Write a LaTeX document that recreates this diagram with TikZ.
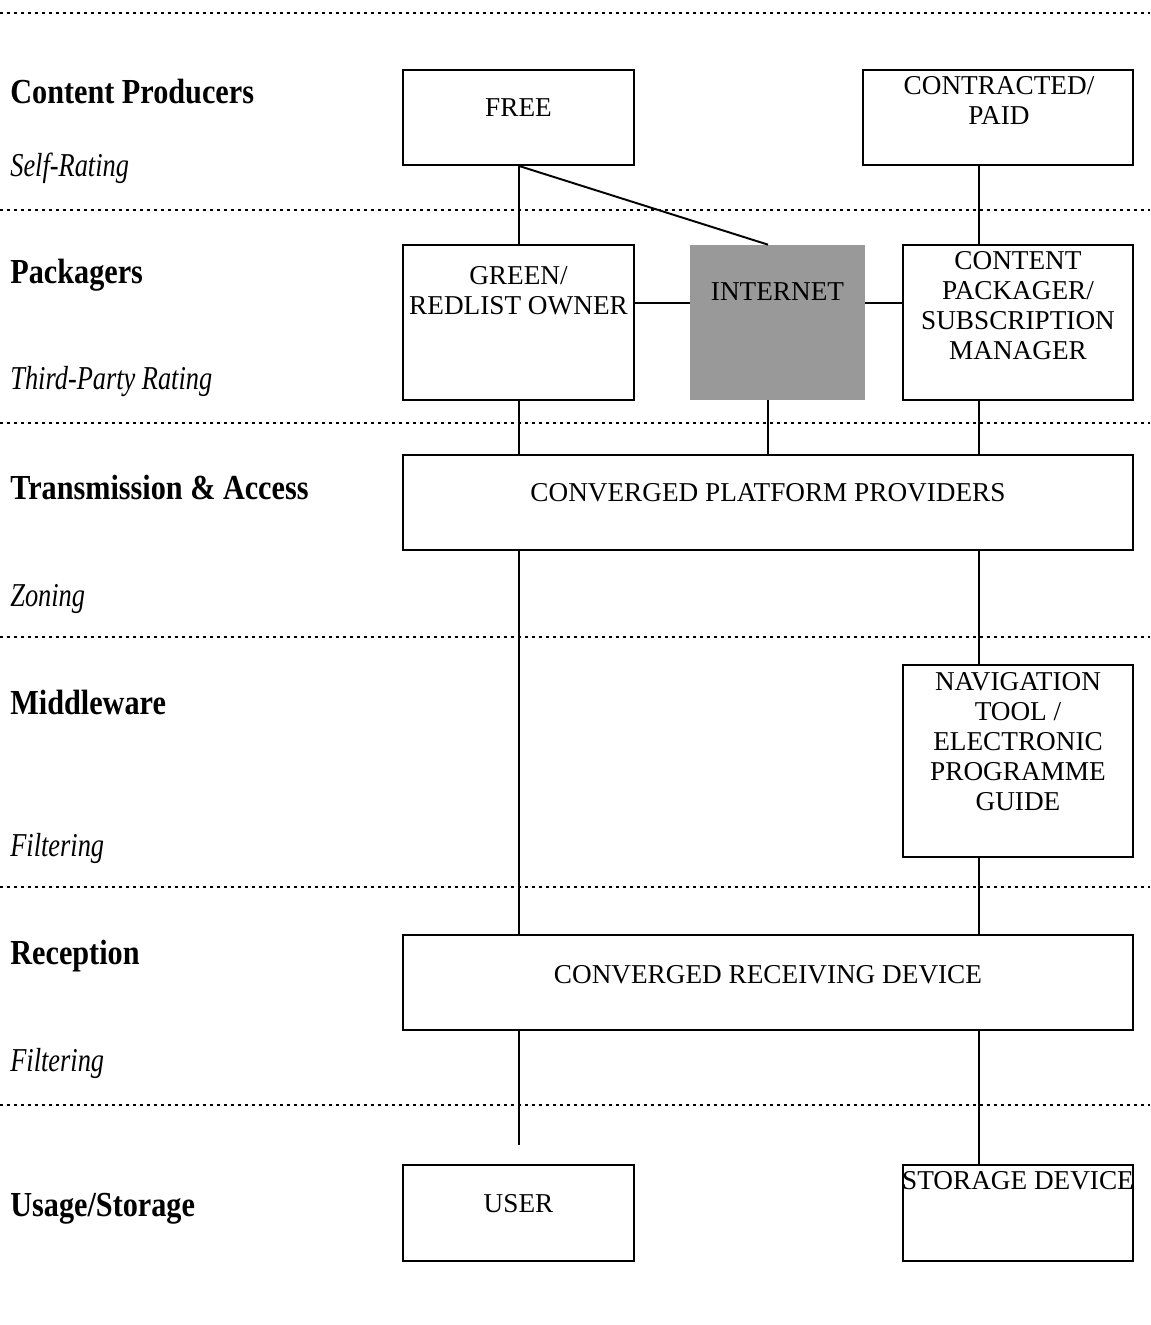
\documentclass[tikz,border=0pt]{standalone}
\usepackage{fontspec}
\setmainfont{Liberation Serif}
\newfontfamily\tierfont[FakeStretch=0.86]{Liberation Serif}
\newfontfamily\notefont[FakeStretch=0.79]{Liberation Serif}
\usetikzlibrary{positioning}
\definecolor{NetGrey}{HTML}{999999}

\tikzset{
  box/.style={draw, line width=1.1pt, inner sep=0pt},
  boxtext/.style={inner sep=0pt, anchor=north, align=center, font=\fontsize{15.5}{17.07}\selectfont},
  tier/.style={inner sep=0pt, anchor=base west, font=\tierfont\bfseries\fontsize{20}{22}\selectfont},
  note/.style={inner sep=0pt, anchor=base west, font=\notefont\itshape\fontsize{19}{21}\selectfont},
  layer/.style={line width=0.055cm, dash pattern=on 0.06cm off 0.08cm},
  link/.style={line width=1.1pt}
}

\begin{document}
\begin{tikzpicture}[x=0.02cm, y=-0.02cm]
  \useasboundingbox (0,0) rectangle (1150,1325);

  % layer separators
  \foreach \y in {13,210,423,637,887,1105}
    \draw[layer] (0,\y) -- (1150,\y);

  % tier names and control points
  \node[tier] (t-prod) at (10,103) {Content Producers};
  \node[note] (n-self) at (10,176) {Self-Rating};
  \node[tier] (t-pack) at (10,283) {Packagers};
  \node[note] (n-third) at (10,389) {Third-Party Rating};
  \node[tier] (t-trans) at (10,499) {Transmission \& Access};
  \node[note] (n-zone) at (10,606) {Zoning};
  \node[tier] (t-mid) at (10,714) {Middleware};
  \node[note] (n-filt1) at (10,856) {Filtering};
  \node[tier] (t-recv) at (10,964) {Reception};
  \node[note] (n-filt2) at (10,1071) {Filtering};
  \node[tier] (t-use) at (10,1216) {Usage/Storage};

  % boxes
  \node[box, minimum width=4.62cm, minimum height=1.9cm] (free) at (518.5,117.5) {};
  \node[box, minimum width=5.4cm, minimum height=1.9cm] (paid) at (998,117.5) {};
  \node[box, minimum width=4.62cm, minimum height=3.1cm] (green) at (518.5,322.5) {};
  \node[fill=NetGrey, inner sep=0pt, minimum width=3.5cm, minimum height=3.1cm] (inet) at (777.5,322.5) {};
  \node[box, minimum width=4.6cm, minimum height=3.1cm] (pack) at (1018,322.5) {};
  \node[box, minimum width=14.6cm, minimum height=1.9cm] (plat) at (768,502.5) {};
  \node[box, minimum width=4.6cm, minimum height=3.84cm] (nav) at (1018,761) {};
  \node[box, minimum width=14.6cm, minimum height=1.9cm] (recv) at (768,982.5) {};
  \node[box, minimum width=4.62cm, minimum height=1.92cm] (user) at (518.5,1213) {};
  \node[box, minimum width=4.6cm, minimum height=1.92cm] (store) at (1018,1213) {};

  % box texts
  \node[boxtext] (free-t) at (518.5,98) {FREE};
  \node[boxtext] (paid-t) at (999,76) {CONTRACTED/\\PAID};
  \node[boxtext] (green-t) at (518.5,266) {GREEN/\\REDLIST OWNER};
  \node[boxtext] (inet-t) at (777.5,282) {INTERNET};
  \node[boxtext] (pack-t) at (1018,251) {CONTENT\\PACKAGER/\\SUBSCRIPTION\\MANAGER};
  \node[boxtext] (plat-t) at (768,483) {CONVERGED PLATFORM PROVIDERS};
  \node[boxtext] (nav-t) at (1018,672) {NAVIGATION\\TOOL /\\ELECTRONIC\\PROGRAMME\\GUIDE};
  \node[boxtext] (recv-t) at (768,965) {CONVERGED RECEIVING DEVICE};
  \node[boxtext] (user-t) at (518.5,1194) {USER};
  \node[boxtext] (store-t) at (1018,1171) {STORAGE DEVICE};

  % columns of the connectors
  \coordinate (lcol) at (519,0);
  \coordinate (mcol) at (768,0);
  \coordinate (rcol) at (979,0);
  \coordinate (hrow) at (0,303);
  \coordinate (uend) at (519,1145);

  \draw[link] (free.south -| lcol) -- (green.north -| lcol);
  \draw[link] (free.south -| lcol) -- (inet.north -| mcol);
  \draw[link] (paid.south -| rcol) -- (pack.north -| rcol);
  \draw[link] (green.east |- hrow) -- (inet.west |- hrow);
  \draw[link] (inet.east |- hrow) -- (pack.west |- hrow);
  \draw[link] (green.south -| lcol) -- (plat.north -| lcol);
  \draw[link] (inet.south -| mcol) -- (plat.north -| mcol);
  \draw[link] (pack.south -| rcol) -- (plat.north -| rcol);
  \draw[link] (plat.south -| lcol) -- (recv.north -| lcol);
  \draw[link] (plat.south -| rcol) -- (nav.north -| rcol);
  \draw[link] (nav.south -| rcol) -- (recv.north -| rcol);
  \draw[link] (recv.south -| lcol) -- (uend);
  \draw[link] (recv.south -| rcol) -- (store.north -| rcol);
\end{tikzpicture}
\end{document}
